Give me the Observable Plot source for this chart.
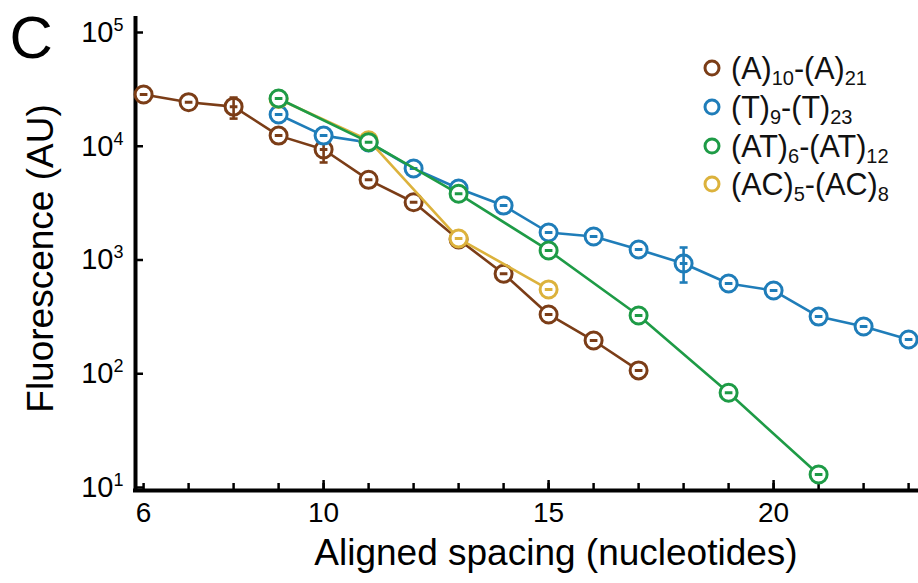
<!DOCTYPE html>
<html>
<head>
<meta charset="utf-8">
<script src="https://cdn.jsdelivr.net/npm/d3@7"></script>
<script src="https://cdn.jsdelivr.net/npm/@observablehq/plot@0.6"></script>
<style>
  html, body { margin: 0; padding: 0; background: #fff; }
  #wrap { position: relative; width: 918px; height: 583px; font-family: "Liberation Sans", Arial, sans-serif; }
  #legend { position: absolute; left: 0; top: 0; }
  .row { position: absolute; left: 700px; height: 38px; line-height: 38px; font-size: 30.5px; color: #111; white-space: nowrap; }
  .row svg { position: absolute; left: 0; top: 10px; }
  .row span.t { position: absolute; left: 31px; top: 0; }
  .row sub { font-size: 20px; vertical-align: -6px; line-height: 0; }
</style>
</head>
<body>
<div id="wrap"><div id="chart"></div><div id="legend"></div></div>
<script>
// ---- data ----
const seriesNames = ["(A)10-(A)21", "(T)9-(T)23", "(AT)6-(AT)12", "(AC)5-(AC)8"];
const seriesColors = ["#7b3d17", "#1f7db9", "#1e9b46", "#dcb23c"];
const legendParts = [["(A)", "10", "-(A)", "21"], ["(T)", "9", "-(T)", "23"], ["(AT)", "6", "-(AT)", "12"], ["(AC)", "5", "-(AC)", "8"]];

const xA = [6, 7, 8, 9, 10, 11, 12, 13, 14, 15, 16, 17];
const yA = [28500, 24400, 22300, 12400, 9360, 5070, 3220, 1515, 757, 332, 196, 107];

const xT = [9, 10, 11, 12, 13, 14, 15, 16, 17, 18, 19, 20, 21, 22, 23];
const yT = [19000, 12400, 10790, 6370, 4250, 3010, 1745, 1610, 1236, 931, 621, 539, 318, 260, 200];

const xAT = [9, 11, 13, 15, 17, 19, 21];
const yAT = [26300, 10870, 3820, 1213, 325, 68, 13.0];

const xAC = [9, 11, 13, 15];
const yAC = [26000, 11300, 1545, 551];

// error bars
const errSeries = ["(A)10-(A)21", "(A)10-(A)21", "(T)9-(T)23"];
const errX = [8, 10, 18];
const errLo = [17500, 7200, 634];
const errHi = [26800, 11000, 1288];

// ticks
const xTicks = [6, 7, 8, 9, 10, 11, 12, 13, 14, 15, 16, 17, 18, 19, 20, 21, 22, 23];
const xMajorTicks = [10, 15, 20];
const xLabelTicks = [6, 10, 15, 20];
const yTicks = [10, 100, 1000, 10000, 100000];
const xTitle = "Aligned spacing (nucleotides)";
const yTitle = "Fluorescence (AU)";
const panelLabel = "C";

// ---- build ----
const seriesX = [xA, xT, xAT, xAC];
const seriesY = [yA, yT, yAT, yAC];
const rows = [];
seriesNames.forEach((s, i) => seriesX[i].forEach((x, j) => rows.push({series: s, x, y: seriesY[i][j]})));
const errs = errX.map((x, i) => ({series: errSeries[i], x, lo: errLo[i], hi: errHi[i]}));

const W = 918, H = 583, mL = 135, mR = 0, mT = 18, mB = 93;
const frameW = W - mL - mR, frameH = H - mT - mB;
const pxPerDecade = 113.75;
const yDomain = [Math.pow(10, 5 - (H - mB - 32) / pxPerDecade), Math.pow(10, 5 + (32 - mT) / pxPerDecade)];
const xDomain = [5.82, 23.22];

const ringBar = {
  draw(ctx, size) {
    const r = Math.sqrt(size / Math.PI);
    ctx.moveTo(r, 0); ctx.arc(0, 0, r, 0, 2 * Math.PI);
    ctx.moveTo(-r * 0.45, 0); ctx.lineTo(r * 0.45, 0);
  }
};
const capSym = {
  draw(ctx, size) {
    const r = Math.sqrt(size / Math.PI);
    ctx.moveTo(-r, 0); ctx.lineTo(r, 0);
  }
};

const drawOrder = [0, 1, 3, 2];
const marks = [];
// axis lines
marks.push(Plot.ruleX([xDomain[0]], {stroke: "black", strokeWidth: 4, strokeLinecap: "square"}));
marks.push(Plot.ruleY([yDomain[0]], {stroke: "black", strokeWidth: 4, strokeLinecap: "square"}));
// ticks (inward)
marks.push(Plot.ruleX(xTicks, {x: d => d, insetTop: frameH - 7, stroke: "black", strokeWidth: 2.5}));
marks.push(Plot.ruleX(xMajorTicks, {x: d => d, insetTop: frameH - 10, stroke: "black", strokeWidth: 2.5}));
marks.push(Plot.ruleY(yTicks, {y: d => d, insetRight: frameW - 8, stroke: "black", strokeWidth: 2.5}));
// axes labels
marks.push(Plot.axisX({ticks: xLabelTicks, tickSize: 0, tickPadding: 12, fontSize: 28, label: null, tickFormat: d => String(d)}));
marks.push(Plot.axisY({ticks: yTicks, tickSize: 0, tickPadding: 12, fontSize: 29, label: null, tickFormat: d => "10^" + Math.round(Math.log10(d))}));
marks.push(Plot.text([xTitle], {frameAnchor: "bottom", textAnchor: "middle", dx: 29, dy: 74, fontSize: 37, fill: "black"}));
marks.push(Plot.text([yTitle], {frameAnchor: "left", textAnchor: "middle", rotate: -90, dx: -94, dy: 4, fontSize: 37, fill: "black"}));
marks.push(Plot.text([panelLabel], {frameAnchor: "top-left", textAnchor: "start", lineAnchor: "top", dx: -126, dy: -3, fontSize: 60, fill: "black"}));

for (const i of drawOrder) {
  const s = seriesNames[i];
  const d = rows.filter(r => r.series === s);
  marks.push(Plot.line(d, {x: "x", y: "y", stroke: "series", strokeWidth: 2.6}));
  marks.push(Plot.dot(d, {x: "x", y: "y", stroke: "series", fill: "white", r: 8.5, strokeWidth: 3, symbol: ringBar}));
  const e = errs.filter(r => r.series === s);
  if (e.length) {
    marks.push(Plot.ruleX(e, {x: "x", y1: "lo", y2: "hi", stroke: "series", strokeWidth: 2.6}));
    marks.push(Plot.dot(e, {x: "x", y: "lo", stroke: "series", r: 4, strokeWidth: 2.6, symbol: capSym, fill: "none"}));
    marks.push(Plot.dot(e, {x: "x", y: "hi", stroke: "series", r: 4, strokeWidth: 2.6, symbol: capSym, fill: "none"}));
  }
}

const chart = Plot.plot({
  width: W, height: H,
  marginLeft: mL, marginRight: mR, marginTop: mT, marginBottom: mB,
  style: {fontFamily: "'Liberation Sans', Arial, sans-serif", background: "white", color: "black", overflow: "visible"},
  x: {domain: xDomain},
  y: {type: "log", domain: yDomain},
  color: {domain: seriesNames, range: seriesColors},
  marks
});
document.getElementById("chart").appendChild(chart);

// superscripts on y tick labels
chart.querySelectorAll('g[aria-label="y-axis tick label"] text').forEach(t => {
  const [base, exp] = t.textContent.split("^");
  if (exp === undefined) return;
  t.textContent = "";
  const ns = "http://www.w3.org/2000/svg";
  const a = document.createElementNS(ns, "tspan"); a.textContent = base;
  const b = document.createElementNS(ns, "tspan"); b.textContent = exp;
  b.setAttribute("dy", "-11"); b.setAttribute("font-size", "18");
  t.appendChild(a); t.appendChild(b);
});

// legend
const legendCenters = [68, 107, 146, 184];
const leg = document.getElementById("legend");
seriesNames.forEach((s, i) => {
  const row = document.createElement("div");
  row.className = "row";
  row.style.top = (legendCenters[i] - 19) + "px";
  row.innerHTML = `<svg width="24" height="18"><circle cx="12" cy="9" r="7" fill="white" stroke="${seriesColors[i]}" stroke-width="3"/></svg>` +
    `<span class="t">${legendParts[i][0]}<sub>${legendParts[i][1]}</sub>${legendParts[i][2]}<sub>${legendParts[i][3]}</sub></span>`;
  leg.appendChild(row);
});
</script>
</body>
</html>
